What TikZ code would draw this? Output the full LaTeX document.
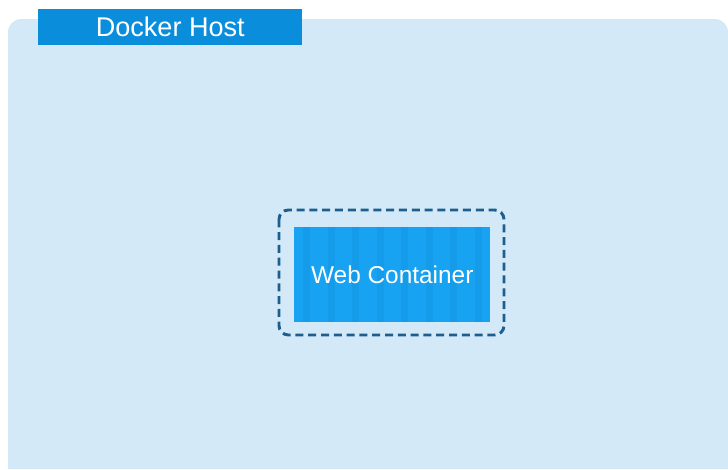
\documentclass[tikz,border=0pt]{standalone}
\usepackage{fontspec}
\setmainfont{Liberation Sans}
\definecolor{hostbg}{HTML}{D3E9F7}
\definecolor{labelblue}{HTML}{0A8EDC}
\definecolor{boxblue}{HTML}{17A2F2}
\definecolor{stripeblue}{HTML}{149BEA}
\definecolor{dashblue}{HTML}{1D5E8E}
\tikzset{
  hostlabel/.style={fill=labelblue,text=white,inner sep=0pt,
    minimum width=198pt,minimum height=27pt,font=\fontsize{20.3}{20.3}\selectfont},
  containerbox/.style={fill=boxblue,inner sep=0pt,
    minimum width=147pt,minimum height=71.25pt},
  ring/.style={draw=dashblue,line width=2.2pt,dash pattern=on 6pt off 3.6pt,
    rounded corners=7pt}
}
\begin{document}
\begin{tikzpicture}[x=0.75pt,y=-0.75pt]
  \useasboundingbox (0,0) rectangle (728,469);
  \fill[white] (0,0) rectangle (728,469);
  % host area
  \fill[hostbg,rounded corners=10] (8,469) -- (8,19) -- (728,19) -- (728,469);
  \node[hostlabel,anchor=north west] (host) at (38,9) {Docker Host};
  % container
  \node[containerbox,anchor=north west] (web) at (294,227) {};
  \foreach \i in {0,...,7}
    \fill[stripeblue] (303+\i*24.5,227) rectangle (310+\i*24.5,322);
  \node[text=white,font=\fontsize{18.3}{18.3}\selectfont] (weblabel) at (web.center) {Web Container};
  \draw[ring] (279,210) rectangle (504,335);
\end{tikzpicture}
\end{document}
